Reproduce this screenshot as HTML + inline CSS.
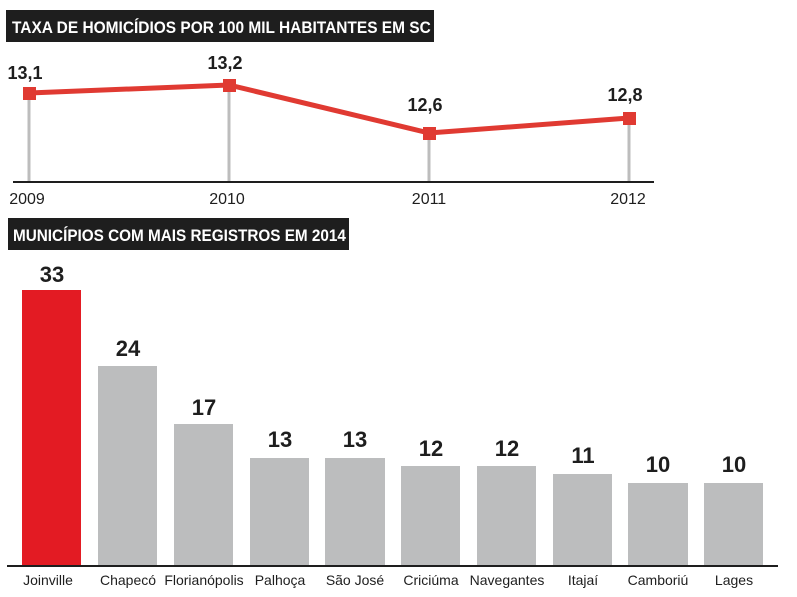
<!DOCTYPE html>
<html><head><meta charset="utf-8"><style>
body{margin:0;background:#fff;width:797px;height:592px;overflow:hidden;font-family:"Liberation Sans",sans-serif}
</style></head><body>
<svg width="797" height="592" xmlns="http://www.w3.org/2000/svg" font-family="Liberation Sans, sans-serif">
<rect x="6" y="10" width="428" height="32" fill="#1e1e1e"/>
<text x="12" y="33" fill="#fff" font-size="17" font-weight="bold" transform="translate(12 0) scale(0.91 1) translate(-12 0)">TAXA DE HOMICÍDIOS POR 100 MIL HABITANTES EM SC</text>
<g stroke="#bdbdbd" stroke-width="3">
<line x1="29" y1="93" x2="29" y2="182"/><line x1="229" y1="85" x2="229" y2="182"/>
<line x1="429" y1="133" x2="429" y2="182"/><line x1="629" y1="118" x2="629" y2="182"/>
</g>
<line x1="13" y1="182" x2="654" y2="182" stroke="#1e1e1e" stroke-width="2"/>
<polyline points="29,93 229,85 429,133 629,118" fill="none" stroke="#e03a32" stroke-width="5"/>
<g fill="#e03a32"><rect x="23" y="87" width="13" height="13"/><rect x="223" y="79" width="13" height="13"/><rect x="423" y="127" width="13" height="13"/><rect x="623" y="112" width="13" height="13"/></g>
<g font-size="18" font-weight="bold" fill="#1e1e1e" text-anchor="middle">
<text x="25" y="79">13,1</text><text x="225" y="69">13,2</text><text x="425" y="111">12,6</text><text x="625" y="101">12,8</text></g>
<g font-size="16" fill="#1e1e1e" text-anchor="middle">
<text x="27" y="204">2009</text><text x="227" y="204">2010</text><text x="429" y="204">2011</text><text x="628" y="204">2012</text></g>
<rect x="8" y="218" width="341" height="32" fill="#1e1e1e"/>
<text x="13" y="241" fill="#fff" font-size="17" font-weight="bold" transform="translate(13 0) scale(0.9 1) translate(-13 0)">MUNICÍPIOS COM MAIS REGISTROS EM 2014</text>
<rect x="22" y="290" width="59" height="276" fill="#e31b23"/>
<g fill="#bcbdbe">
<rect x="98" y="366" width="59" height="200"/><rect x="174" y="424" width="59" height="142"/>
<rect x="250" y="458" width="59" height="108"/><rect x="325" y="458" width="60" height="108"/>
<rect x="401" y="466" width="59" height="100"/><rect x="477" y="466" width="59" height="100"/>
<rect x="553" y="474" width="59" height="92"/><rect x="628" y="483" width="60" height="83"/>
<rect x="704" y="483" width="59" height="83"/></g>
<line x1="7" y1="566" x2="778" y2="566" stroke="#1e1e1e" stroke-width="2"/>
<g font-size="22" font-weight="bold" fill="#1e1e1e" text-anchor="middle">
<text x="52" y="282">33</text><text x="128" y="356">24</text><text x="204" y="415">17</text>
<text x="280" y="447">13</text><text x="355" y="447">13</text><text x="431" y="456">12</text>
<text x="507" y="456">12</text><text x="583" y="463">11</text><text x="658" y="472">10</text><text x="734" y="472">10</text></g>
<g font-size="14" fill="#1e1e1e" text-anchor="middle">
<text x="48" y="585">Joinville</text><text x="128" y="585">Chapecó</text><text x="204" y="585">Florianópolis</text>
<text x="280" y="585">Palhoça</text><text x="355" y="585">São José</text><text x="431" y="585">Criciúma</text>
<text x="507" y="585">Navegantes</text><text x="583" y="585">Itajaí</text><text x="658" y="585">Camboriú</text><text x="734" y="585">Lages</text></g>
</svg>
</body></html>
